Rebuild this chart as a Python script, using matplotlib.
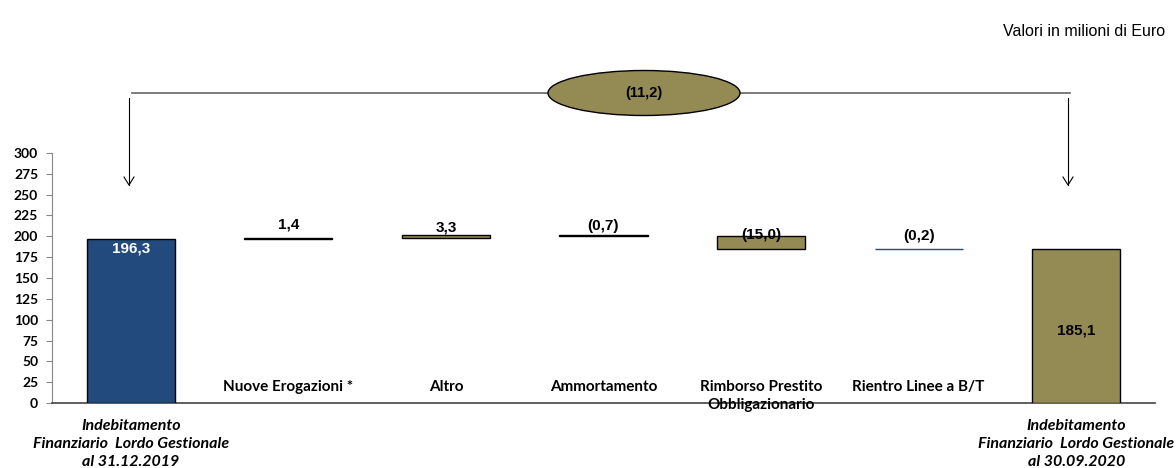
import matplotlib
matplotlib.use("Agg")
import matplotlib.pyplot as plt
from matplotlib.patches import Ellipse
from matplotlib.transforms import offset_copy

categories = ["Indebitamento\nFinanziario  Lordo Gestionale\nal 31.12.2019",
              "Nuove Erogazioni *", "Altro", "Ammortamento",
              "Rimborso Prestito\nObbligazionario", "Rientro Linee a B/T",
              "Indebitamento\nFinanziario  Lordo Gestionale\nal 30.09.2020"]
start_value = 196.3
changes = [1.4, 3.3, -0.7, -15.0, -0.2]
end_value = 185.1
labels = ["196,3", "1,4", "3,3", "(0,7)", "(15,0)", "(0,2)", "185,1"]
total_change_label = "(11,2)"
yticks = list(range(0, 301, 25))

NAVY = "#224A7C"
OLIVE = "#948A54"

fig = plt.figure(figsize=(11.76, 4.68), dpi=100)
ax = fig.add_axes([52/1176, 1-403/468, (1155-52)/1176, (403-153)/468])

# compute waterfall
bottoms, heights = [0], [start_value]
cum = start_value
for c in changes:
    new = cum + c
    bottoms.append(min(cum, new))
    heights.append(abs(c))
    cum = new
bottoms.append(0)
heights.append(end_value)

face = [NAVY, OLIVE, OLIVE, OLIVE, OLIVE, NAVY, OLIVE]
edge = ["black", "black", "black", "black", "black", NAVY, "black"]
x = list(range(len(categories)))
ax.bar(x, heights, bottom=bottoms, width=0.56, color=face, edgecolor=edge, linewidth=1.0, zorder=3)

vfont = dict(family="Liberation Sans", fontweight="bold", fontsize=11)
# value labels
ax.text(0, start_value - 2.5, labels[0], ha="center", va="top", color="white", **vfont)
label_gap_pt = [0, 5, 1, 1.5, -4, 4]  # offset (points) of each change label above its bar
for i in range(1, 6):
    top = bottoms[i] + heights[i]
    tr = offset_copy(ax.transData, fig=fig, x=0, y=label_gap_pt[i], units="points")
    ax.text(i, top, labels[i], ha="center", va="bottom", color="black",
            transform=tr, zorder=4, **vfont)
ax.text(6, end_value * 0.47, labels[6], ha="center", va="center", color="black", **vfont)

# category labels
cfont = dict(family="Lato", fontweight="bold", fontsize=11)
for i in range(1, 6):
    ax.text(i, 28, categories[i], ha="center", va="top", color="black",
            linespacing=1.4, zorder=5, **cfont)
for i in (0, 6):
    ax.text(i, -19, categories[i], ha="center", va="top", color="black",
            style="italic", linespacing=1.35, clip_on=False,
            family="Lato", fontweight="bold", fontsize=11.5)

ax.set_xlim(-0.5, 6.5)
ax.set_ylim(0, 300)
ax.set_yticks(yticks)
ax.set_yticklabels([str(t) for t in yticks], fontfamily="Lato", fontweight="bold", fontsize=10)
ax.set_xticks([])
for s in ("top", "right"):
    ax.spines[s].set_visible(False)
ax.spines["left"].set_color("#888888")
ax.spines["bottom"].set_color("#444444")
ax.spines["bottom"].set_linewidth(1.2)
ax.tick_params(axis="y", length=4, color="#888888", pad=6)

# top bracket and ellipse (figure pixel coords)
def fx(px): return px / 1176
def fy(py): return 1 - py / 468

fig.add_artist(plt.Line2D([fx(132), fx(1070)], [fy(93), fy(93)], color="#666666", lw=1.2, zorder=2))
fig.add_artist(plt.Line2D([fx(129), fx(129)], [fy(98), fy(185)], color="black", lw=0.8))
fig.add_artist(plt.Line2D([fx(1068), fx(1068)], [fy(98), fy(185)], color="black", lw=0.8))
for xx in (129, 1068):
    fig.add_artist(plt.Line2D([fx(xx-5), fx(xx), fx(xx+5)], [fy(177), fy(185), fy(177)], color="black", lw=0.8))
ell = Ellipse((fx(644), fy(93)), width=fx(192), height=45/468, facecolor=OLIVE,
              edgecolor="black", lw=1.0, transform=fig.transFigure, zorder=5)
fig.add_artist(ell)
fig.text(fx(644), fy(93), total_change_label, ha="center", va="center",
         family="Liberation Sans", fontweight="bold", fontsize=10.5, zorder=6)

fig.text(fx(1165), fy(32), "Valori in milioni di Euro", ha="right", va="center",
         family="Liberation Sans", fontsize=11.5)

fig.savefig("out.png", dpi=100)
